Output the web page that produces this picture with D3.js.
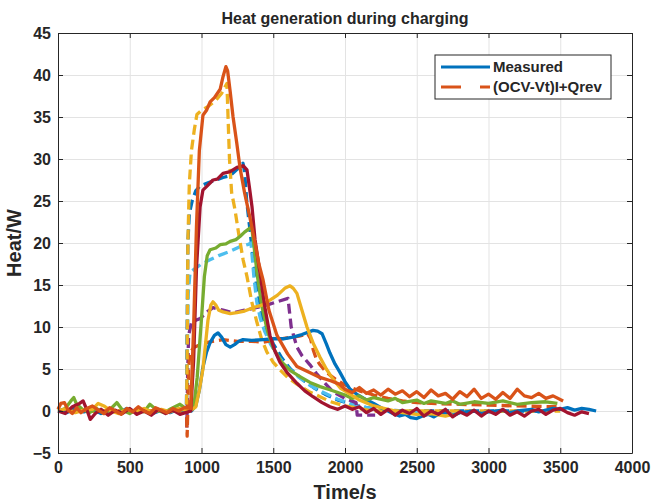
<!DOCTYPE html>
<html>
<head>
<meta charset="utf-8">
<script src="https://cdn.jsdelivr.net/npm/d3@7"></script>
<style>
body { margin: 0; background: #fff; }
text { font-family: "Liberation Sans", Arial, sans-serif; font-weight: bold; fill: #262626; }
</style>
</head>
<body>
<div id="chart"></div>
<script>
var xTicks = [0, 500, 1000, 1500, 2000, 2500, 3000, 3500, 4000];
var yTicks = [-5, 0, 5, 10, 15, 20, 25, 30, 35, 40, 45];
var legendLabels = ["Measured", "(OCV-Vt)I+Qrev"];

// measured heat, [time s, heat W]
var measA = [[0,0.2],[20,0.9],[45,1.0],[70,0.1],[100,-0.3],[130,0.4],[160,-0.2],[200,0.3],[240,0.6],[280,0.1],[320,-0.3],[360,0.4],[400,0],[440,-0.4],[480,0.3],[520,-0.1],[560,0.5],[600,0],[640,-0.3],[680,0.4],[720,0.1],[760,-0.2],[800,0.3],[840,0],[880,0.4],[925,0.3],[945,10],[965,22],[985,31],[1010,35.2],[1035,35.8],[1060,36.8],[1090,37.3],[1110,37.8],[1130,38.3],[1150,39.8],[1170,41],[1182,40.5],[1200,38],[1220,35],[1245,32],[1268,29],[1300,26],[1338,23],[1373,20],[1400,17.5],[1429,15.6],[1470,12],[1526,9],[1600,6.8],[1665,5.3],[1750,4.6],[1826,4],[1900,3.6],[1960,3.2],[2000,2.6],[2050,2.2],[2100,2.8],[2150,2.1],[2200,2.5],[2250,1.9],[2300,2.6],[2350,2.0],[2400,2.4],[2450,1.7],[2500,2.3],[2550,1.6],[2600,2.5],[2650,1.8],[2700,2.1],[2750,1.4],[2800,2.3],[2850,1.7],[2900,2.6],[2950,1.5],[3000,2.0],[3050,1.4],[3100,2.2],[3150,1.5],[3200,2.6],[3250,1.8],[3300,1.6],[3350,2.1],[3400,1.5],[3450,1.8],[3520,1.2]];
var measB = [[0,0],[50,-0.3],[100,0.5],[150,0.9],[175,1.2],[200,0.2],[225,-1],[260,-0.3],[300,0.2],[350,-0.5],[400,0.1],[450,-0.3],[500,0.3],[550,-0.4],[600,0],[650,-0.5],[700,0.2],[750,-0.3],[800,0.1],[850,-0.4],[925,0],[945,6],[965,17],[990,24.3],[1010,26.3],[1040,26.8],[1080,27.5],[1110,27.6],[1150,28.3],[1200,28.5],[1247,29],[1290,29.2],[1317,28.7],[1335,26.5],[1352,24.3],[1373,20.4],[1408,16.4],[1440,12.5],[1477,9],[1510,7.2],[1547,5.8],[1600,4.5],[1665,3.3],[1720,2.4],[1777,1.7],[1840,1.0],[1895,0.5],[1950,0.2],[2000,0.6],[2050,0.2],[2100,0.5],[2150,-0.2],[2200,0.3],[2250,-0.4],[2300,0.2],[2350,-0.5],[2400,0.1],[2450,-0.3],[2500,0.3],[2550,-0.6],[2600,0],[2650,-0.4],[2700,0.2],[2750,-0.7],[2800,-0.1],[2850,-0.5],[2900,0.1],[2950,-0.6],[3000,0],[3050,-0.4],[3100,0.2],[3150,-0.5],[3200,-0.1],[3250,-0.6],[3300,0],[3350,0.2],[3400,-0.4],[3450,0.1],[3500,0.3],[3550,-0.2],[3600,-0.5],[3650,-0.1],[3700,-0.3]];
var measC = [[0,0],[50,0.3],[90,1.2],[110,1.6],[130,0.8],[170,0.2],[220,-0.2],[270,0.3],[320,-0.3],[370,0.3],[410,1],[450,0.1],[500,-0.3],[550,0.2],[600,-0.1],[640,0.8],[690,0.1],[740,-0.2],[790,0.3],[850,0.8],[900,0.2],[945,0.3],[970,4],[1000,11],[1020,16],[1040,18.5],[1060,19.2],[1100,19.4],[1130,19.8],[1170,19.9],[1200,20.2],[1240,20.4],[1270,20.8],[1300,21.3],[1340,21.8],[1352,21.6],[1370,19],[1390,16],[1420,12.5],[1460,9.5],[1500,7.5],[1560,5.8],[1620,4.8],[1686,4.1],[1756,3.4],[1826,2.9],[1900,2.5],[2000,1.9],[2050,1.5],[2100,1.8],[2150,1.3],[2200,1.6],[2300,1.2],[2350,1.5],[2400,1.0],[2500,1.3],[2550,0.9],[2600,1.2],[2700,0.9],[2750,1.2],[2800,0.8],[2900,1.1],[3000,0.9],[3100,1.2],[3200,0.8],[3300,1.0],[3400,1.1],[3480,0.9]];
var measD = [[0,0],[60,0.3],[120,-0.2],[180,0.1],[240,0.2],[280,0.9],[320,0.6],[370,0],[420,-0.3],[480,0.2],[540,-0.1],[600,0.3],[660,-0.2],[720,0.2],[780,-0.1],[840,0.3],[920,0],[960,0.5],[985,2.5],[1010,5],[1045,10.8],[1065,12.6],[1080,13],[1100,12.6],[1120,12],[1150,11.8],[1200,11.6],[1247,11.7],[1300,11.9],[1359,12.3],[1420,12.6],[1477,13.2],[1530,13.8],[1580,14.6],[1617,14.9],[1640,14.6],[1665,14],[1700,12],[1735,10],[1780,8],[1826,6.4],[1870,5],[1916,3.8],[1970,2.7],[2035,2.0],[2100,1.3],[2200,0.6],[2300,0.2],[2400,-0.2],[2500,-0.4],[2600,-0.3],[2700,-0.6],[2750,-0.4]];
var measE = [[0,0],[60,-0.2],[120,0.3],[180,-0.1],[240,0.2],[300,-0.3],[360,0.1],[420,-0.2],[480,0.3],[540,-0.1],[600,0.2],[660,-0.3],[720,0.1],[780,-0.2],[840,0.2],[930,0],[960,0.6],[985,2.5],[1010,5.2],[1035,7],[1059,8.1],[1090,9],[1115,9.3],[1140,8.8],[1170,7.9],[1200,7.6],[1230,7.9],[1260,8.3],[1289,8.5],[1350,8.4],[1429,8.5],[1500,8.6],[1570,8.6],[1638,8.8],[1700,9.1],[1777,9.6],[1810,9.5],[1840,9.2],[1870,8],[1895,6.9],[1930,5.6],[1965,4.6],[2000,3.5],[2035,2.6],[2090,1.9],[2153,1.3],[2200,0.9],[2260,0.3],[2300,0],[2334,-0.3],[2380,-0.6],[2420,-0.4],[2460,-0.8],[2500,-0.9],[2540,-0.6],[2580,-0.4],[2620,-0.7],[2660,-0.3],[2700,-0.2],[2760,-0.5],[2800,-0.2],[2900,0],[2950,-0.3],[3000,-0.1],[3100,0.1],[3150,-0.2],[3200,0],[3300,0.2],[3350,-0.1],[3400,0.1],[3450,0.3],[3500,0.2],[3550,0.4],[3600,0.1],[3650,0.3],[3700,0.2],[3750,0]];

// (OCV-Vt)I+Qrev model
var modelA = [[0,0],[895,0],[900,6],[905,20],[915,27],[930,31],[950,33.5],[968,35.3],[1000,35.8],[1050,36.3],[1100,37],[1140,37.8],[1177,39],[1185,35],[1195,30],[1210,26],[1233,24],[1260,21],[1290,18],[1317,16],[1350,13],[1387,10.5],[1420,8.5],[1456,7],[1500,5.8],[1547,4.9],[1600,4],[1665,3.2],[1750,2.3],[1826,1.7],[1900,1.1],[2000,0.6],[2100,0.3],[2200,0],[3500,0]];
var modelB = [[0,0],[895,0],[900,10],[905,20],[915,23.5],[935,25],[960,26.2],[990,26.8],[1050,27.2],[1100,27.5],[1150,27.8],[1199,28],[1250,28.8],[1289,29.5],[1300,28.5],[1315,25],[1338,21.5],[1360,18],[1387,14.5],[1420,11.5],[1460,9.5],[1500,8],[1560,6.3],[1620,5],[1700,3.8],[1780,2.8],[1860,2],[1950,1.3],[2050,0.8],[2150,0.4],[2250,0.2],[2400,0],[3400,0]];
var modelC = [[0,0],[895,0],[900,6],[908,14],[920,16.5],[960,17],[1000,17.5],[1059,18],[1120,18.5],[1199,19],[1260,19.5],[1320,19.8],[1345,20],[1355,18],[1365,16],[1385,13],[1410,11],[1440,9.5],[1480,8],[1530,6.6],[1600,5.2],[1680,4],[1760,3],[1850,2.2],[1950,1.4],[2050,0.8],[2150,0.4],[2300,0.1],[2500,-0.2],[2800,-0.2]];
var modelD = [[0,0],[895,0],[898,-2],[903,4],[910,9],[930,10.5],[960,10.8],[990,11],[1040,11.8],[1080,12.3],[1150,12],[1220,11.7],[1300,12],[1408,12.4],[1470,12.7],[1526,13],[1603,13.4],[1612,12],[1625,10],[1645,8.8],[1665,7.6],[1700,6.6],[1756,5.5],[1800,4.5],[1850,3.5],[1916,2.3],[2000,1.5],[2077,1.0],[2085,-0.5],[2210,-0.5]];
var modelE = [[0,0],[895,0],[900,-3],[904,0],[910,5],[920,7],[950,7.6],[990,7.9],[1050,8.2],[1150,8.5],[1250,8.3],[1350,8.3],[1429,8.2],[1500,8.4],[1596,8.7],[1680,8.9],[1740,9.2],[1760,8.6],[1780,7.2],[1800,6.2],[1826,5.5],[1860,4.8],[1900,4.2],[1950,3.6],[2000,3.1],[2100,2.4],[2200,1.9],[2300,1.5],[2400,1.2],[2500,1],[2600,0.9],[2800,0.8],[3000,0.7],[3200,0.6],[3500,0.5]];

var margin = { top: 33, right: 33, bottom: 49, left: 58 };
var width = 665 - margin.left - margin.right,
    height = 502 - margin.top - margin.bottom;

var svg = d3.select("#chart").append("svg")
    .attr("width", 665)
    .attr("height", 502);

var g = svg.append("g")
    .attr("transform", "translate(" + margin.left + "," + margin.top + ")");

var x = d3.scaleLinear().domain([0, 4000]).range([0, width]);
var y = d3.scaleLinear().domain([-5, 45]).range([height, 0]);

// grid
g.append("g")
    .attr("transform", "translate(0," + height + ")")
    .call(d3.axisBottom(x).tickValues(xTicks).tickSize(-height).tickFormat(""))
    .call(function(s) { s.select(".domain").remove(); s.selectAll("line").attr("stroke", "#e3e3e3"); });
g.append("g")
    .call(d3.axisLeft(y).tickValues(yTicks).tickSize(-width).tickFormat(""))
    .call(function(s) { s.select(".domain").remove(); s.selectAll("line").attr("stroke", "#e3e3e3"); });

var line = d3.line()
    .x(function(d) { return x(d[0]); })
    .y(function(d) { return y(d[1]); });

var series = [
    { data: modelB, color: "#0072BD", dash: true },
    { data: modelC, color: "#4DBEEE", dash: true },
    { data: modelD, color: "#7E2F8E", dash: true },
    { data: modelE, color: "#D95319", dash: true },
    { data: modelA, color: "#EDB120", dash: true },
    { data: measE, color: "#0072BD", dash: false },
    { data: measC, color: "#77AC30", dash: false },
    { data: measD, color: "#EDB120", dash: false },
    { data: measB, color: "#A2142F", dash: false },
    { data: measA, color: "#D95319", dash: false }
];

g.append("g").selectAll("path")
    .data(series)
    .enter().append("path")
    .attr("d", function(d) { return line(d.data); })
    .attr("fill", "none")
    .attr("stroke", function(d) { return d.color; })
    .attr("stroke-width", 3.3)
    .attr("stroke-linejoin", "round")
    .attr("stroke-dasharray", function(d) { return d.dash ? "10,5" : null; });

// axes, ticks pointing inward on all four sides
function styleAxis(s) {
    s.select(".domain").attr("stroke", "#262626");
    s.selectAll(".tick line").attr("stroke", "#262626");
    s.selectAll("text").style("font-size", "16px").attr("fill", "#262626");
}
g.append("g")
    .attr("transform", "translate(0," + height + ")")
    .call(d3.axisBottom(x).tickValues(xTicks).tickFormat(d3.format("d")).tickSizeInner(-5).tickSizeOuter(0).tickPadding(9))
    .call(styleAxis);
g.append("g")
    .call(d3.axisLeft(y).tickValues(yTicks).tickFormat(d3.format("d")).tickSizeInner(-5).tickSizeOuter(0).tickPadding(7))
    .call(styleAxis);
g.append("g")
    .call(d3.axisTop(x).tickValues(xTicks).tickSizeInner(-5).tickSizeOuter(0).tickFormat(""))
    .call(styleAxis);
g.append("g")
    .attr("transform", "translate(" + width + ",0)")
    .call(d3.axisRight(y).tickValues(yTicks).tickSizeInner(-5).tickSizeOuter(0).tickFormat(""))
    .call(styleAxis);

svg.append("text")
    .attr("x", margin.left + width / 2)
    .attr("y", 24)
    .attr("text-anchor", "middle")
    .style("font-size", "16px")
    .text("Heat generation during charging");

svg.append("text")
    .attr("x", margin.left + width / 2)
    .attr("y", 499)
    .attr("text-anchor", "middle")
    .style("font-size", "20px")
    .text("Time/s");

svg.append("text")
    .attr("transform", "translate(21," + (margin.top + height / 2) + ") rotate(-90)")
    .attr("text-anchor", "middle")
    .style("font-size", "20px")
    .text("Heat/W");

// legend
var lg = svg.append("g").attr("transform", "translate(435,55)");
lg.append("rect")
    .attr("width", 176).attr("height", 44)
    .attr("fill", "#fff").attr("stroke", "#262626").attr("stroke-width", 1);
lg.selectAll("line")
    .data(legendLabels)
    .enter().append("line")
    .attr("x1", 6).attr("x2", 55)
    .attr("y1", function(d, i) { return 12 + i * 20; })
    .attr("y2", function(d, i) { return 12 + i * 20; })
    .attr("stroke", function(d, i) { return i ? "#D95319" : "#0072BD"; })
    .attr("stroke-width", 3)
    .attr("stroke-dasharray", function(d, i) { return i ? "20,19" : null; });
lg.selectAll("text")
    .data(legendLabels)
    .enter().append("text")
    .attr("x", 58)
    .attr("y", function(d, i) { return 17 + i * 20; })
    .style("font-size", "15px")
    .text(function(d) { return d; });
</script>
</body>
</html>
